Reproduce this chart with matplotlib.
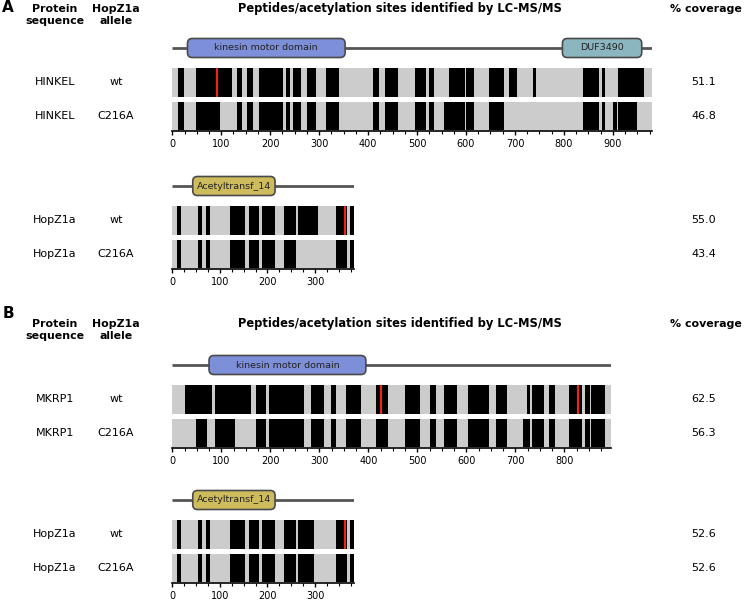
import numpy as np
import matplotlib.pyplot as plt
from matplotlib.patches import FancyBboxPatch
from matplotlib.ticker import MultipleLocator

W, H = 744, 601

# protein lengths (aa)
hinkel_len = 979
mkrp1_len = 895
hopz1a_len = 382

# domains: start, end, name, colour
hinkel_domains = [(31, 353, 'kinesin motor domain', '#7d8fd9'),
                  (797, 959, 'DUF3490', '#8cb6bf')]
mkrp1_domains = [(75, 395, 'kinesin motor domain', '#7d8fd9')]
hopz1a_domains = [(43, 216, 'Acetyltransf_14', '#cdbb5c')]

# peptide coverage segments (start, end)
hinkel_wt = [(12, 24), (48, 121), (133, 143), (153, 164), (177, 226), (232, 240),
             (247, 263), (276, 293), (313, 341), (409, 422), (434, 462), (496, 518),
             (524, 535), (565, 597), (600, 617), (647, 678), (688, 704), (737, 744),
             (839, 872), (877, 884), (911, 964)]
hinkel_c216a = [(12, 24), (48, 97), (133, 143), (153, 164), (177, 226), (232, 240),
                (247, 263), (276, 293), (313, 341), (409, 422), (434, 462), (496, 518),
                (524, 535), (555, 597), (600, 617), (647, 678), (839, 872), (877, 884),
                (901, 908), (911, 950)]
hopz1a_a_wt = [(9, 19), (53, 62), (70, 79), (122, 153), (161, 183), (189, 216),
               (235, 261), (264, 307), (344, 367), (373, 382)]
hopz1a_a_c216a = [(9, 19), (53, 62), (70, 79), (122, 153), (161, 183), (189, 216),
                  (235, 260), (344, 367), (373, 382)]
mkrp1_wt = [(26, 80), (87, 161), (171, 192), (197, 268), (284, 309), (324, 335),
            (354, 386), (416, 440), (475, 505), (526, 538), (555, 582), (603, 647),
            (661, 683), (723, 730), (735, 759), (768, 782), (810, 837), (842, 852),
            (855, 884)]
mkrp1_c216a = [(48, 70), (87, 128), (171, 192), (197, 268), (284, 309), (324, 335),
               (354, 386), (416, 440), (475, 505), (526, 538), (555, 582), (603, 647),
               (661, 683), (715, 730), (735, 759), (768, 782), (810, 837), (842, 852),
               (855, 884)]
hopz1a_b_wt = [(9, 19), (53, 62), (70, 79), (122, 153), (161, 183), (189, 216),
               (235, 261), (264, 298), (344, 367), (373, 382)]
hopz1a_b_c216a = [(9, 19), (53, 62), (70, 79), (122, 153), (161, 183), (189, 216),
                  (235, 261), (264, 298), (344, 367), (373, 382)]

# acetylation sites (red)
hinkel_sites = [92]
hopz1a_a_sites = [362]
mkrp1_sites = [426, 827]
hopz1a_b_sites = [362]

alleles = ['wt', 'C216A']
cov_hinkel = ['51.1', '46.8']
cov_hopz1a_a = ['55.0', '43.4']
cov_mkrp1 = ['62.5', '56.3']
cov_hopz1a_b = ['52.6', '52.6']

fig = plt.figure(figsize=(W / 100, H / 100), dpi=100)


def fx(x):
    return x / W


def fy(y):
    return 1 - y / H


def header(y, letter, letter_y):
    # y = centre of the first header line, in pixels from the top
    fig.text(fx(8), fy(letter_y), letter, ha='center', va='center', fontsize=11, fontweight='bold')
    for x, txt in [(55, ('Protein', 'sequence')), (116, ('HopZ1a', 'allele'))]:
        fig.text(fx(x), fy(y), txt[0], ha='center', va='center', fontsize=7.9, fontweight='bold')
        fig.text(fx(x), fy(y + 12), txt[1], ha='center', va='center', fontsize=7.9, fontweight='bold')
    fig.text(fx(400), fy(y), 'Peptides/acetylation sites identified by LC-MS/MS',
             ha='center', va='center', fontsize=8.3, fontweight='bold')
    fig.text(fx(706), fy(y), '% coverage', ha='center', va='center',
             fontsize=7.9, fontweight='bold')


def group(line_y, length, scale, domains, tracks, sites, name, covs):
    left = 172.3
    top = line_y - 11
    bottom = line_y + 83
    ax = fig.add_axes([fx(left), fy(bottom), length * scale / W, (bottom - top) / H])
    ax.set_xlim(0, length)
    ax.set_ylim(83, -11)
    ax.plot([0, length], [0, 0], color='#555555', lw=2, zorder=1, solid_capstyle='butt')
    for s, e, lab, col in domains:
        box = FancyBboxPatch((s, -9.5), e - s, 19,
                             boxstyle='round,pad=0,rounding_size=10',
                             mutation_aspect=scale, facecolor=col,
                             edgecolor='#4a4a4a', lw=1.2, zorder=2)
        ax.add_patch(box)
        ax.text((s + e) / 2, 0, lab, ha='center', va='center', fontsize=6.8,
                color='#222222', zorder=3)
    rows = [(20, 28.5), (54, 28)]
    for (y0, h), segs in zip(rows, tracks):
        ax.broken_barh([(0, length)], (y0, h), facecolor='#cccccc', edgecolor='none')
        ax.broken_barh([(s, e - s) for s, e in segs], (y0, h), facecolor='black',
                       edgecolor='none')
    ax.vlines(sites, rows[0][0], rows[0][0] + rows[0][1], color='#e8261e', lw=1.6)
    for sp in ['top', 'left', 'right']:
        ax.spines[sp].set_visible(False)
    ax.spines['bottom'].set_linewidth(1.2)
    ax.set_yticks([])
    ax.xaxis.set_major_locator(MultipleLocator(100))
    ax.xaxis.set_minor_locator(MultipleLocator(25))
    ax.tick_params(axis='x', which='major', labelsize=7, length=3, width=1, pad=2.5)
    ax.tick_params(axis='x', which='minor', length=2, width=0.8)
    for (y0, h), al, cv in zip(rows, alleles, covs):
        yc = line_y + y0 + h / 2
        fig.text(fx(55), fy(yc), name, ha='center', va='center', fontsize=8)
        fig.text(fx(116), fy(yc), al, ha='center', va='center', fontsize=8)
        fig.text(fx(704), fy(yc), cv, ha='center', va='center', fontsize=8)


header(8.5, 'A', 7.5)
group(48, hinkel_len, 0.4895, hinkel_domains, [hinkel_wt, hinkel_c216a],
      hinkel_sites, 'HINKEL', cov_hinkel)
group(186, hopz1a_len, 0.4757, hopz1a_domains, [hopz1a_a_wt, hopz1a_a_c216a],
      hopz1a_a_sites, 'HopZ1a', cov_hopz1a_a)

header(324, 'B', 313)
group(365, mkrp1_len, 0.49, mkrp1_domains, [mkrp1_wt, mkrp1_c216a],
      mkrp1_sites, 'MKRP1', cov_mkrp1)
group(500, hopz1a_len, 0.4757, hopz1a_domains, [hopz1a_b_wt, hopz1a_b_c216a],
      hopz1a_b_sites, 'HopZ1a', cov_hopz1a_b)

fig.savefig('out.png', dpi=100)
